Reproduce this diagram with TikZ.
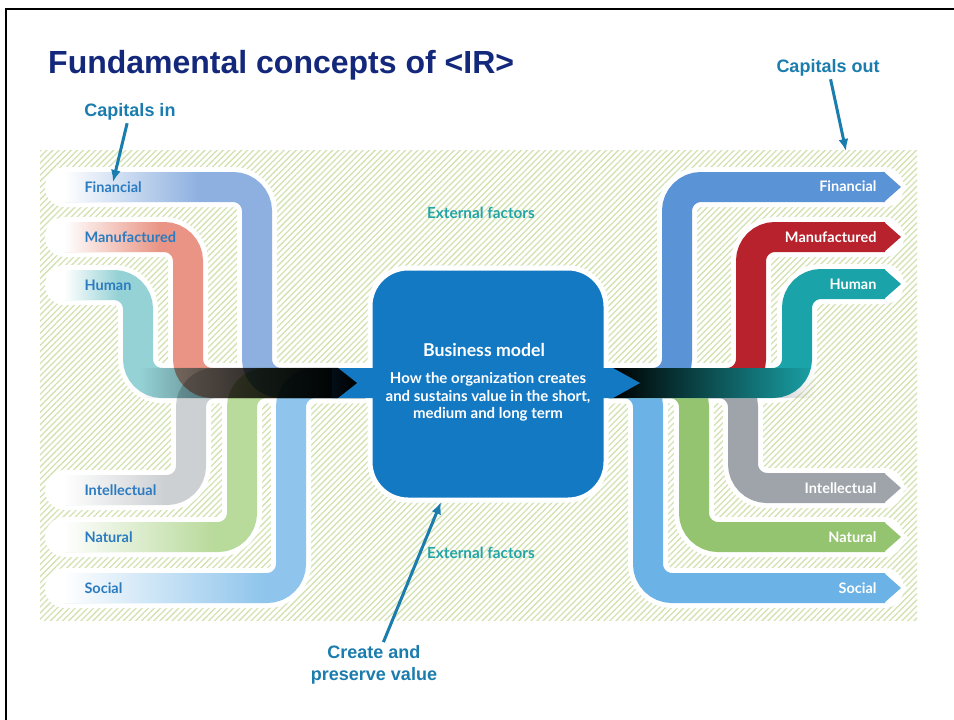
\documentclass[tikz,border=0pt]{standalone}
\usepackage{fontspec}
\setmainfont{Liberation Sans}
\newfontfamily\lblfont{Lato}
\usepackage{xcolor}
\usetikzlibrary{arrows.meta,patterns.meta,fadings}

\definecolor{titleblue}{RGB}{19,40,122}
\definecolor{capblue}{RGB}{27,124,174}
\definecolor{lblblue}{RGB}{43,123,192}
\definecolor{extteal}{RGB}{35,165,168}
\definecolor{hatch}{RGB}{210,226,176}
\definecolor{boxblue}{RGB}{20,121,195}
\definecolor{inFin}{RGB}{141,176,224}
\definecolor{inMan}{RGB}{233,148,132}
\definecolor{inHum}{RGB}{149,210,214}
\definecolor{inInt}{RGB}{205,208,211}
\definecolor{inNat}{RGB}{184,218,154}
\definecolor{inSoc}{RGB}{143,197,236}
\definecolor{outFin}{RGB}{90,147,214}
\definecolor{outMan}{RGB}{184,34,44}
\definecolor{outHum}{RGB}{26,163,168}
\definecolor{outInt}{RGB}{158,164,169}
\definecolor{outNat}{RGB}{149,196,112}
\definecolor{outSoc}{RGB}{107,178,230}

\tikzfading[name=fadeout, left color=transparent!0, right color=transparent!100]
\tikzfading[name=blackL, left color=transparent!100, middle color=transparent!0, right color=transparent!0]
\tikzfading[name=blackR, left color=transparent!0, middle color=transparent!0, right color=transparent!100]

\begin{document}
\begin{tikzpicture}[x=1pt,y=-1pt,
    bandgap/.style={white, line width=40pt, rounded corners=24pt, line cap=round},
    ribbon/.style={line width=30pt, rounded corners=24pt},
    mix/.style={blend mode=multiply},
    inlbl/.style={anchor=west, text=lblblue, font=\lblfont\bfseries\fontsize{14.5}{16}\selectfont},
    outlbl/.style={anchor=east, text=white, font=\lblfont\bfseries\fontsize{14.5}{16}\selectfont},
    extlbl/.style={text=extteal, font=\lblfont\bfseries\fontsize{15.3}{17}\selectfont},
    slidenote/.style={text=capblue, align=center, font=\bfseries\fontsize{18}{22}\selectfont},
    callout/.style={capblue, line width=3pt, -{Latex[length=12pt,width=10pt]}}]
    \useasboundingbox (0,0) rectangle (954,720);
    \fill[white] (0,0) rectangle (954,720);
    \fill[pattern={Lines[angle=45,distance=4.3pt,line width=1.3pt]}, pattern color=hatch]
        (40,150) rectangle (917,620);

    %white gaps round the ribbons
    \foreach \y/\x in {187/257,237/188,285/138,490/191,537/242,588/291}
        \draw[bandgap] (65,\y) -- (\x,\y) -- (\x,383) -- (365,383);
    \foreach \y/\x in {187/677,237/751,284/797,488/743,537/694,588/648}{
        \draw[bandgap] (600,383) -- (\x,383) -- (\x,\y) -- (884,\y);
        \fill[white] (880,\y-20) -- (908,\y) -- (880,\y+20) -- cycle;
    }

    \foreach \y/\x/\c in {187/257/inFin,237/188/inMan,285/138/inHum,490/191/inInt,537/242/inNat,588/291/inSoc}
        \draw[ribbon, mix, draw=\c] (65,\y) -- (\x,\y) -- (\x,383) -- (365,383);
    \foreach \y/\x/\c in {187/677/outFin,237/751/outMan,588/648/outSoc,537/694/outNat,488/743/outInt,284/797/outHum}{
        \draw[ribbon, draw=\c] (600,383) -- (\x,383) -- (\x,\y) -- (885,\y);
        \fill[\c] (884,\y-15) -- (901,\y) -- (884,\y+15) -- cycle;
    }

    \foreach \y/\x in {187/200,237/160,285/118,490/165,537/215,588/265}
        \fill[white, path fading=fadeout] (65,\y-15) rectangle (\x,\y+15);

    \node[inlbl] (infin) at (81,187) {Financial};
    \node[inlbl] (inman) at (81,237) {Manufactured};
    \node[inlbl] (inhum) at (81,285) {Human};
    \node[inlbl] (inint) at (81,490) {Intellectual};
    \node[inlbl] (innat) at (81,537) {Natural};
    \node[inlbl] (insoc) at (81,588) {Social};
    \node[outlbl] (outfin) at (880,186) {Financial};
    \node[outlbl] (outman) at (880,237) {Manufactured};
    \node[outlbl] (outhum) at (880,284) {Human};
    \node[outlbl] (outint) at (880,488) {Intellectual};
    \node[outlbl] (outnat) at (880,537) {Natural};
    \node[outlbl] (outsoc) at (880,588) {Social};

    \fill[black, path fading=blackR] (612,368) rectangle (815,398);
    \node[draw=white, line width=5pt, fill=boxblue, rounded corners=38pt,
        minimum width=236pt, minimum height=232pt] (box) at (488,384) {};
    \fill[boxblue] (332,368) -- (613,368) -- (640,383) -- (613,398) -- (332,398) -- cycle;
    \fill[black, path fading=blackL] (140,368) -- (338,368) -- (357,383) -- (338,398) -- (140,398) -- cycle;

    \node[text=white, font=\lblfont\bfseries\fontsize{17.7}{20}\selectfont] (bm) at (484,350) {Business model};
    \node[text=white, align=center, font=\lblfont\bfseries\fontsize{15}{17.5}\selectfont] (bmtext) at (488,397)
        {How the organization creates\\and sustains value in the short,\\medium and long term};

    \node[extlbl] (extup) at (481,213) {External factors};
    \node[extlbl] (extdown) at (481,553) {External factors};

    \node[anchor=base west, inner sep=0pt, text=titleblue, font=\bfseries\fontsize{32}{36}\selectfont] (title) at (48,73)
        {Fundamental concepts of <IR>};
    \node[slidenote, anchor=base] (cin) at (130,116) {Capitals in};
    \node[slidenote, anchor=base] (cout) at (828,72) {Capitals out};
    \node[slidenote] (cpv) at (374,665) {Create and\\preserve value};
    \coordinate (cintip) at (113,182);
    \coordinate (couttip) at (846,151);
    \coordinate (cpvtip) at (441,502);
    \draw[callout] (cin) -- (cintip);
    \draw[callout] (cout) -- (couttip);
    \draw[callout] (cpv) -- (cpvtip);

    \draw[line width=2.5pt] (6,720) -- (6,9) -- (954,9);
\end{tikzpicture}
\end{document}
